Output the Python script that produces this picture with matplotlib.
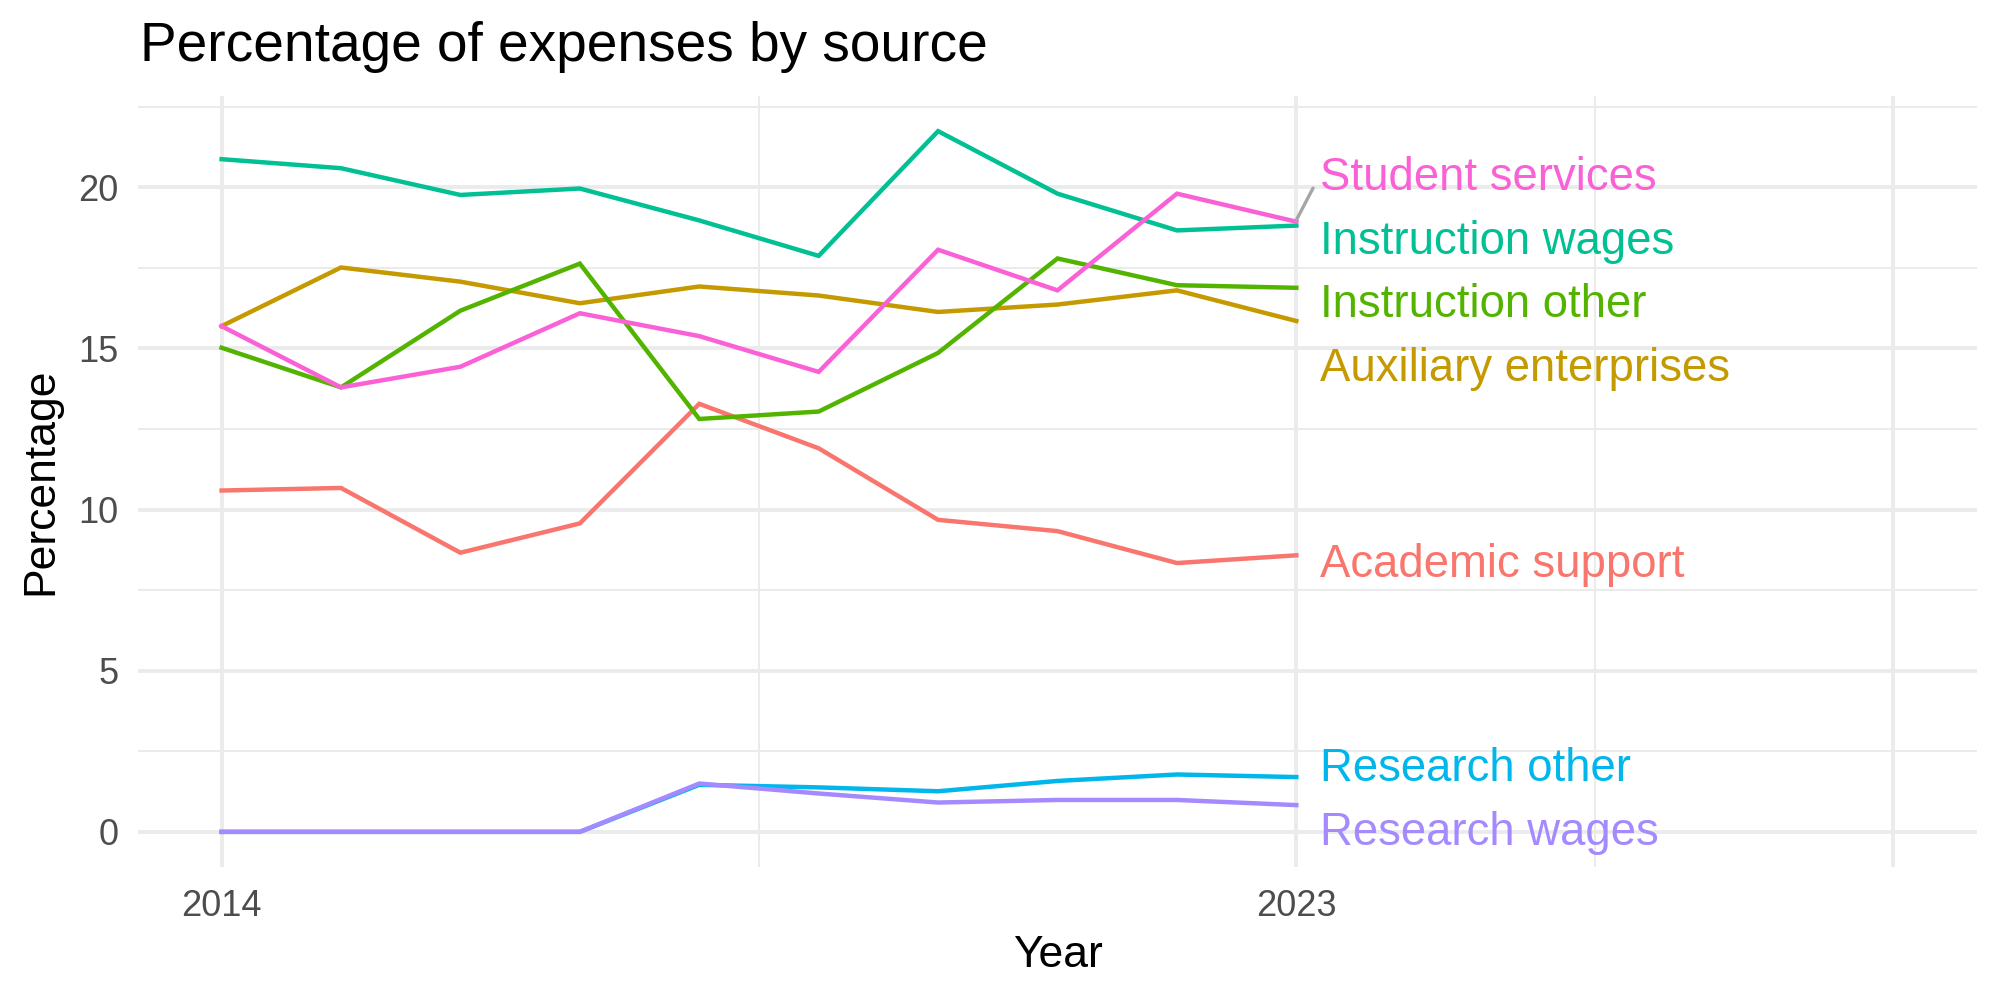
import numpy as np
import matplotlib
matplotlib.use("Agg")
import matplotlib.pyplot as plt

plt.rcParams['font.family'] = ['Liberation Sans', 'DejaVu Sans']

years = list(range(2014, 2024))

# series, in ggplot's alphabetical order (drawn in this order)
sources = ["Academic support", "Auxiliary enterprises", "Instruction other",
           "Instruction wages", "Research other", "Research wages",
           "Student services"]
colors = ["#F8766D", "#C49A00", "#53B400", "#00C094", "#00B6EB", "#A58AFF", "#FB61D7"]

academic_support = [10.59, 10.67, 8.66, 9.57, 13.28, 11.90, 9.68, 9.33, 8.34, 8.58]
auxiliary_enterprises = [15.69, 17.51, 17.07, 16.40, 16.92, 16.64, 16.13, 16.36, 16.80, 15.85]
instruction_other = [15.02, 13.79, 16.17, 17.63, 12.81, 13.04, 14.86, 17.79, 16.96, 16.88]
instruction_wages = [20.87, 20.59, 19.76, 19.96, 18.97, 17.87, 21.74, 19.80, 18.66, 18.81]
research_other = [0.0, 0.0, 0.0, 0.0, 1.46, 1.38, 1.26, 1.58, 1.78, 1.70]
research_wages = [0.0, 0.0, 0.0, 0.0, 1.50, 1.19, 0.91, 0.99, 0.99, 0.83]
student_services = [15.69, 13.79, 14.43, 16.09, 15.38, 14.27, 18.06, 16.80, 19.80, 18.93]

series = [academic_support, auxiliary_enterprises, instruction_other,
          instruction_wages, research_other, research_wages, student_services]

x_breaks = [2014, 2023, 2028]
x_labels = ["2014", "2023", ""]
x_minor = [2018.5, 2025.5]
y_breaks = [0, 5, 10, 15, 20]
y_minor = [2.5, 7.5, 12.5, 17.5, 22.5]


def repel(values, gap, n_iter=500):
    """very small 1-d label repel: push neighbours apart until gap is kept"""
    order = np.argsort(values)[::-1]
    pos = np.array(values, dtype=float)
    for _ in range(n_iter):
        moved = False
        for a, b in zip(order[:-1], order[1:]):
            d = pos[a] - pos[b]
            if d < gap - 1e-6:
                shift = (gap - d) / 2
                pos[a] += shift
                pos[b] -= shift
                moved = True
        if not moved:
            break
    return pos


fig = plt.figure(figsize=(10, 5), dpi=200)
ax = fig.add_axes([0.069, 0.133, 0.9195, 0.771])

for v in x_minor:
    ax.axvline(v, color="#EBEBEB", lw=0.7, zorder=0)
for v in y_minor:
    ax.axhline(v, color="#EBEBEB", lw=0.7, zorder=0)
for v in x_breaks:
    ax.axvline(v, color="#EBEBEB", lw=1.4, zorder=0)
for v in y_breaks:
    ax.axhline(v, color="#EBEBEB", lw=1.4, zorder=0)

for name, vals, c in zip(sources, series, colors):
    ax.plot(years, vals, color=c, lw=1.6, solid_joinstyle="miter", zorder=2)

last = [s[-1] for s in series]
label_y = repel(last, 1.97) - 0.3
label_x = years[-1] + 0.2
for name, c, y0, y1 in zip(sources, colors, last, label_y):
    ax.text(label_x, y1, name, color=c, fontsize=16.4, ha="left", va="center", zorder=3)
    if y1 - y0 > 1.0:
        ax.plot([years[-1], years[-1] + 0.14], [y0 + 0.05, y1 - 0.3], color="#A6A6A6",
                lw=1.2, solid_capstyle="round", zorder=3)

ax.set_xlim(2013.3, 2028.7)
ax.set_ylim(-1.09, 22.83)
ax.set_xticks(x_breaks)
ax.set_xticklabels(x_labels)
ax.set_yticks(y_breaks)
ax.tick_params(length=0, labelsize=13, labelcolor="#4D4D4D")
ax.tick_params(axis="x", pad=8)
ax.tick_params(axis="y", pad=7)
for s in ax.spines.values():
    s.set_visible(False)

ax.set_xlabel("Year", fontsize=16, labelpad=4)
ax.set_ylabel("Percentage", fontsize=16, labelpad=6)
fig.text(0.07, 0.953, "Percentage of expenses by source", fontsize=19.8,
         ha="left", va="center")

fig.savefig("out.png", dpi=200, facecolor="white")
